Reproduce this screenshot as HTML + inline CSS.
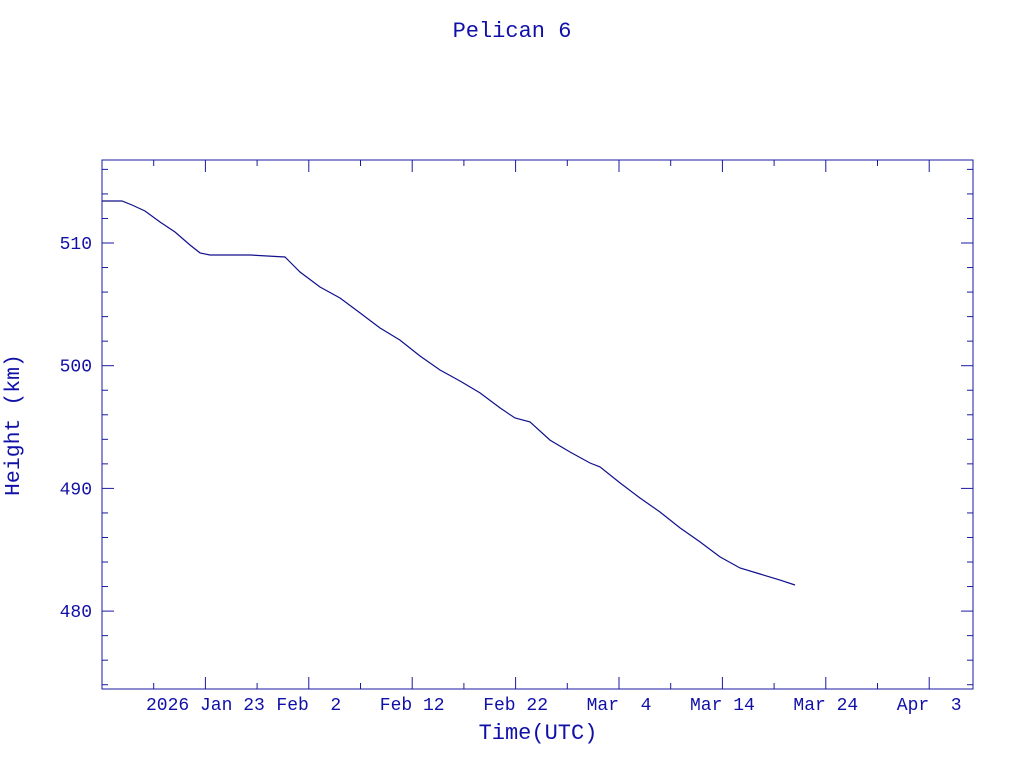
<!DOCTYPE html>
<html><head><meta charset="utf-8"><style>
body{margin:0;background:#fff;}
svg text{font-family:"Liberation Mono","DejaVu Sans Mono",monospace;fill:#1010a8;}
</style></head><body>
<svg id="chart" width="1024" height="768" xmlns="http://www.w3.org/2000/svg">
<text x="512" y="37" text-anchor="middle" font-size="22">Pelican 6</text>
<text x="538" y="739" text-anchor="middle" font-size="22">Time(UTC)</text>
<text x="21" y="425" text-anchor="middle" font-size="21.5" transform="rotate(-90 21 425)" dy="-2">Height (km)</text>
<rect x="102" y="160" width="871" height="529" fill="none" stroke="#1a1aa0" stroke-width="1"/>
<g id="ticks"></g>
<path id="series" fill="none" stroke="#10108c" stroke-width="1.2"/>
</svg>
<script>
const days=[0,1.93,2.9,4.16,5.61,7.06,8.51,9.48,10.44,14.31,17.7,18.18,19.15,21.08,23.02,24.95,26.89,28.82,30.75,32.69,34.62,36.56,38.49,39.94,41.39,43.33,45.26,47.2,48.16,50.1,52.03,53.97,55.9,57.83,59.77,61.7,63.64,65.57,67.02];
const heights=[513.42,513.42,513.1,512.61,511.71,510.9,509.84,509.19,509.02,509.02,508.86,508.45,507.64,506.41,505.52,504.3,503.07,502.09,500.79,499.65,498.75,497.78,496.56,495.74,495.42,493.94,492.97,492.07,491.75,490.45,489.22,488.08,486.78,485.64,484.42,483.51,483.02,482.53,482.13];
const yTicks=[480,490,500,510];
const xTickDays=[10,20,30,40,50,60,70,80];
const xTickLabels=["2026 Jan 23","Feb  2","Feb 12","Feb 22","Mar  4","Mar 14","Mar 24","Apr  3"];
const X=d=>102+d*10.34;
const Y=v=>243-(v-510)*12.27;
const NS="http://www.w3.org/2000/svg";
const g=document.getElementById('ticks');
function line(x1,y1,x2,y2){const l=document.createElementNS(NS,'line');
l.setAttribute('x1',x1);l.setAttribute('y1',y1);l.setAttribute('x2',x2);l.setAttribute('y2',y2);
l.setAttribute('stroke','#1a1aa0');l.setAttribute('stroke-width','1');


g.appendChild(l);}
for(let v=474;v<=516;v+=2){const y=Y(v);const L=(v%10===0)?12:6;line(102,y,102+L,y);line(973,y,973-L,y);}
for(let d=5;X(d)<973;d+=5){const x=X(d);const L=(d%10===0)?12:6;line(x,689,x,689-L);line(x,160,x,160+L);}
yTicks.forEach(v=>{const t=document.createElementNS(NS,'text');
t.setAttribute('x',92);t.setAttribute('y',Y(v)+6);t.setAttribute('text-anchor','end');t.setAttribute('font-size','18');
t.textContent=v;


g.appendChild(t);});
xTickDays.forEach((d,i)=>{const t=document.createElementNS(NS,'text');
t.setAttribute('x',X(d));t.setAttribute('y',710);t.setAttribute('text-anchor','middle');t.setAttribute('font-size','18');
t.setAttribute('xml:space','preserve');t.style.whiteSpace='pre';
t.textContent=xTickLabels[i];


g.appendChild(t);});
document.getElementById('series').setAttribute('d',days.map((d,i)=>(i?'L':'M')+X(d).toFixed(1)+','+Y(heights[i]).toFixed(1)).join(' '));
</script>
</body></html>
